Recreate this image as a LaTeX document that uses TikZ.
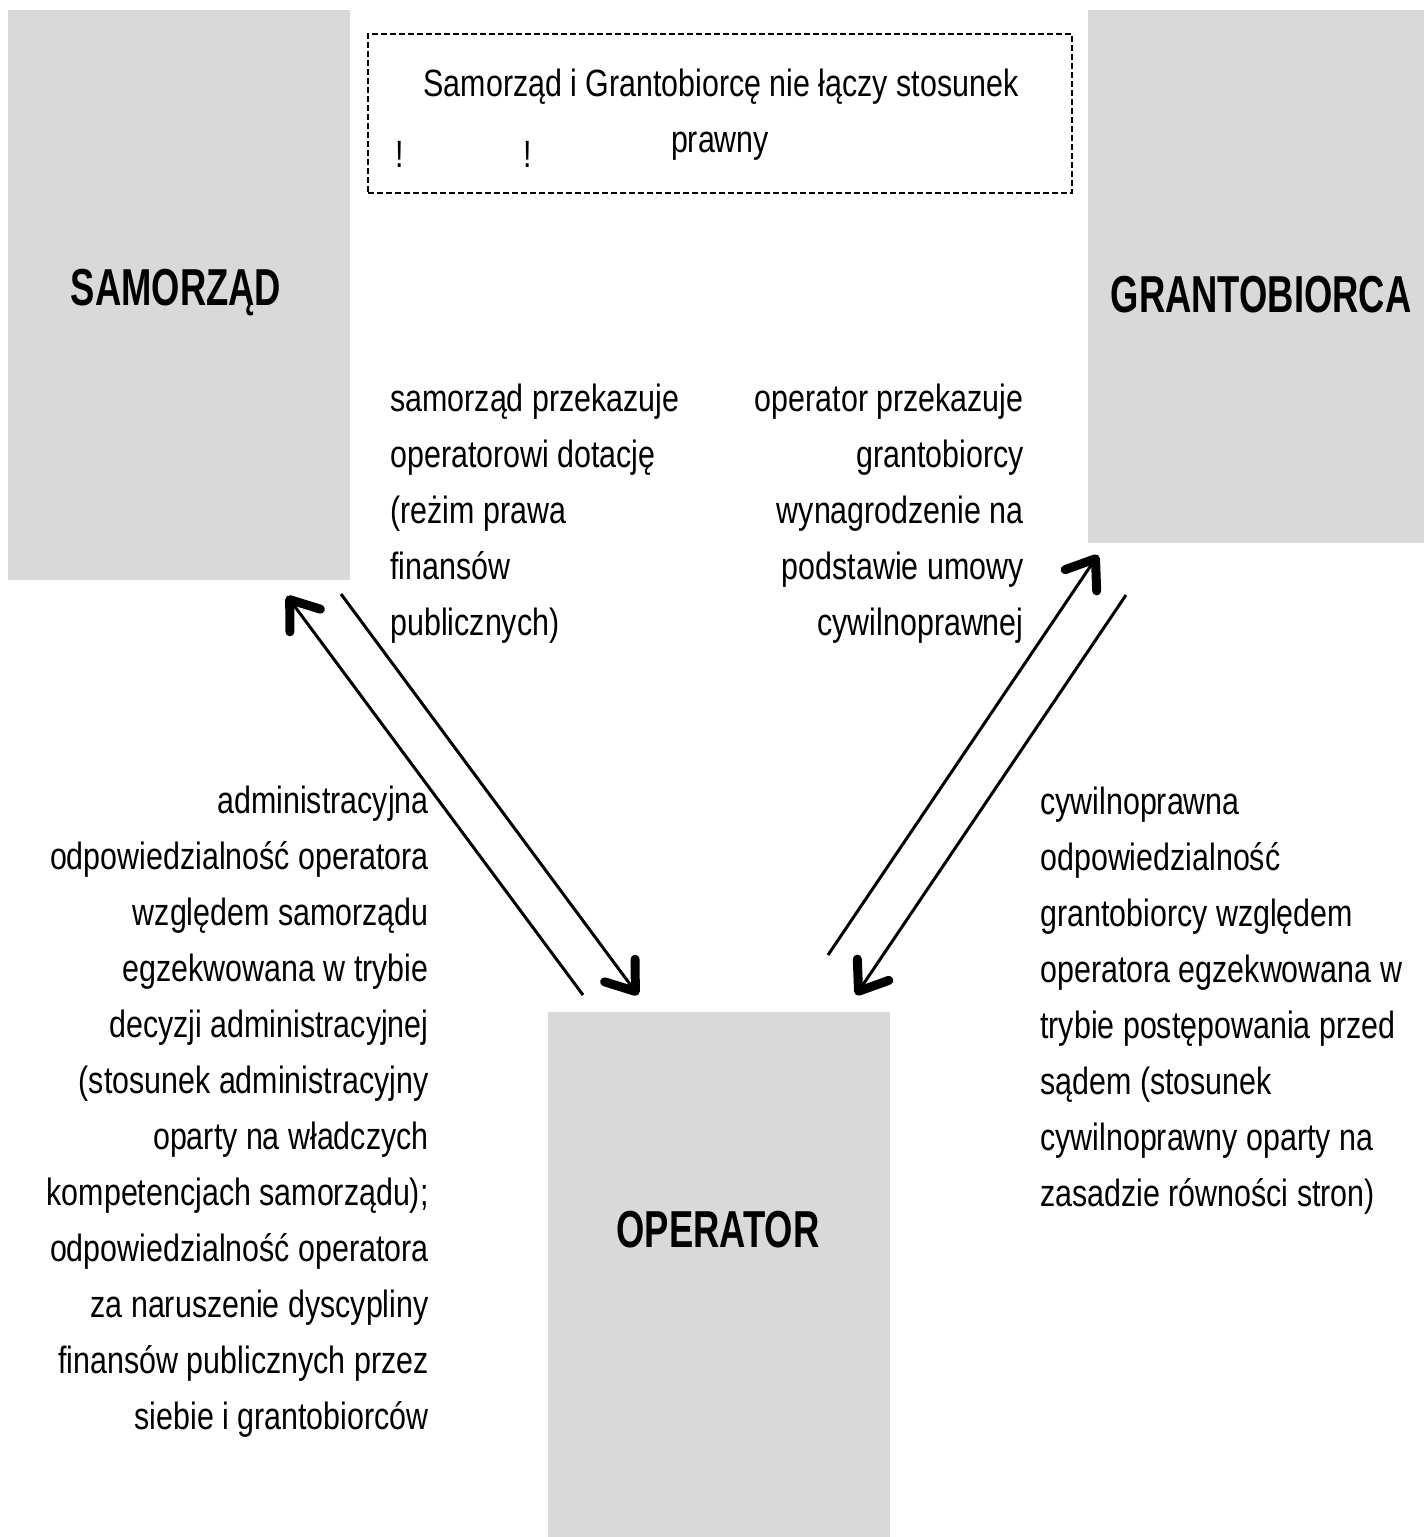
\documentclass[tikz,border=0pt]{standalone}
\usepackage{fontspec}
\setmainfont{Liberation Sans}[FakeStretch=0.8]
\newfontfamily\labelfont{Liberation Sans}[FakeStretch=0.7]
\usetikzlibrary{arrows.meta}
\definecolor{boxgray}{HTML}{D9D9D9}
\tikzset{
  graybox/.style={fill=boxgray, draw=none, inner sep=0pt, outer sep=0pt},
  lbl/.style={font=\labelfont\bfseries\fontsize{26pt}{30pt}\selectfont, inner sep=0pt},
  txt/.style={font=\fontsize{19pt}{28pt}\selectfont, inner sep=0pt},
  dashbox/.style={draw=black, line width=1pt, dash pattern=on 3pt off 1.5pt, inner sep=0pt},
  conn/.style={line width=1.5pt, -{Straight Barb[length=13pt, width=19pt, line width=4.5pt, round]}}
}
\begin{document}
\begin{tikzpicture}[x=0.5pt, y=-0.5pt]
\useasboundingbox (0,0) rectangle (1424,1537);
% boxes
\node[graybox, minimum width=171pt, minimum height=285pt] (sam) at (179,295) {};
\node[graybox, minimum width=168pt, minimum height=266.5pt] (gra) at (1256,276.5) {};
\node[graybox, minimum width=171pt, minimum height=262.5pt] (ope) at (719,1274.5) {};
\node[lbl, anchor=base] (samlbl) at (176,305) {SAMORZĄD};
\node[lbl, anchor=base] (gralbl) at (1261,312) {GRANTOBIORCA};
\node[lbl, anchor=base] (opelbl) at (718,1247) {OPERATOR};
% dashed note
\node[dashbox, minimum width=352pt, minimum height=79.5pt] (note) at (720,113.5) {};
\node[txt, anchor=base] (n1) at (721,96) {Samorząd i Grantobiorcę nie łączy stosunek};
\node[txt, anchor=base] (n2) at (720,152) {prawny};
\node[txt, anchor=base] (ex1) at (400,167) {!};
\node[txt, anchor=base] (ex2) at (528,167) {!};
% text blocks (base anchor = baseline of last line)
\node[txt, anchor=base west, align=left] (ta) at (390,635)
  {samorząd przekazuje\\operatorowi dotację\\(reżim prawa\\finansów\\publicznych)};
\node[txt, anchor=base east, align=right] (tb) at (1024,635)
  {operator przekazuje\\grantobiorcy\\wynagrodzenie na\\podstawie umowy\\cywilnoprawnej};
\node[txt, anchor=base east, align=right] (tc) at (429,1429)
  {administracyjna\\odpowiedzialność operatora\\względem samorządu\\egzekwowana w trybie\\decyzji administracyjnej\\(stosunek administracyjny\\oparty na władczych\\kompetencjach samorządu);\\odpowiedzialność operatora\\za naruszenie dyscypliny\\finansów publicznych przez\\siebie i grantobiorców};
\node[txt, anchor=base west, align=left] (td) at (1040,1206)
  {cywilnoprawna\\odpowiedzialność\\grantobiorcy względem\\operatora egzekwowana w\\trybie postępowania przed\\sądem (stosunek\\cywilnoprawny oparty na\\zasadzie równości stron)};
% arrows
\coordinate (a1t) at (583,995);
\coordinate (a1h) at (287,596);
\coordinate (a2t) at (341,594);
\coordinate (a2h) at (638,995);
\coordinate (a3t) at (828,955);
\coordinate (a3h) at (1098,555);
\coordinate (a4t) at (1126,595);
\coordinate (a4h) at (856,995);
\draw[conn] (a1t) -- (a1h);
\draw[conn] (a2t) -- (a2h);
\draw[conn] (a3t) -- (a3h);
\draw[conn] (a4t) -- (a4h);
\end{tikzpicture}
\end{document}
